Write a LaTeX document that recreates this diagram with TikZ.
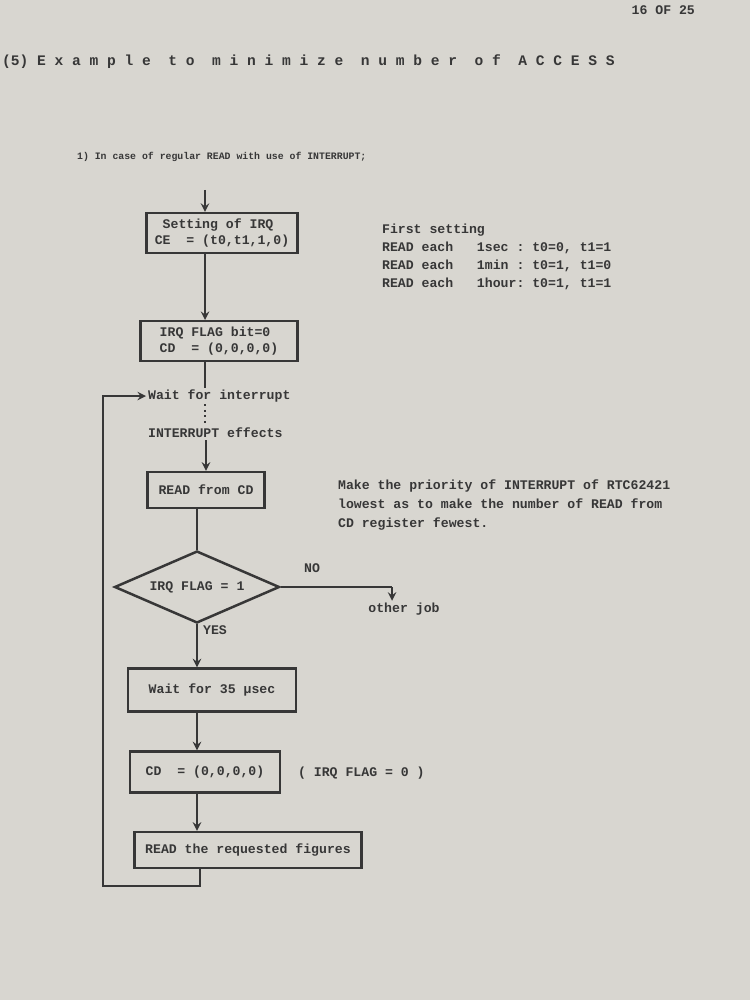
\documentclass[tikz,border=0pt]{standalone}
\usepackage{fontspec}
\setmonofont{Liberation Mono}
\usepackage{xcolor}
\usepackage{tikz}
\usetikzlibrary{shapes.geometric}

\definecolor{paper}{RGB}{216,214,208}
\definecolor{ink}{RGB}{55,55,55}

\tikzset{
    txt/.style={font=\ttfamily\bfseries\fontsize{7.5}{9.5}\selectfont, text=ink, inner sep=1pt},
    box/.style={txt, draw=ink, line width=0.5mm, align=left, inner sep=3pt},
    arr/.style={draw=ink, line width=0.4mm, -stealth},
    wire/.style={draw=ink, line width=0.4mm}
}

\begin{document}
\begin{tikzpicture}[x=0.02cm, y=-0.02cm]
            \useasboundingbox (0,0) rectangle (750,1000);
            \fill[paper] (0,0) rectangle (750,1000);

            % page head
            \node[txt, anchor=east] (page) at (697,10) {16 OF 25};
            \node[txt, anchor=west, font=\ttfamily\bfseries\fontsize{8.3}{10}\selectfont] (title) at (0,62)
                {(5) E x a m p l e~~t o~~m i n i m i z e~~n u m b e r~~o f~~A C C E S S};
            \node[txt, anchor=west, font=\ttfamily\bfseries\fontsize{5.6}{7}\selectfont] (case) at (75,157)
                {1) In case of regular READ with use of INTERRUPT;};

            % flow chart
            \coordinate (entry) at (205,190);
            \node[box, minimum width=3.02cm, minimum height=0.68cm] (setirq) at (222,233)
                {\hphantom{x}Setting of IRQ\\CE~~= (t0,t1,1,0)};
            \node[box, minimum width=3.14cm, minimum height=0.76cm] (clrflag) at (219,341)
                {IRQ FLAG bit=0\\CD~~= (0,0,0,0)};
            \node[txt, anchor=west] (wait) at (146,396) {Wait for interrupt};
            \node[txt, anchor=west] (effects) at (146,433) {INTERRUPT effects};
            \node[box, minimum width=2.34cm, minimum height=0.72cm] (readcd) at (206,490) {READ from CD};
            \node[txt, draw=ink, line width=0.5mm, shape=diamond, aspect=2.3, inner sep=0pt,
                minimum width=3.3cm, minimum height=1.44cm] (flag) at (197,587) {IRQ FLAG = 1};
            \node[box, minimum width=3.36cm, minimum height=0.86cm] (wait35) at (212,690) {Wait for 35 µsec};
            \node[box, minimum width=3.0cm, minimum height=0.82cm] (clrcd) at (205,772) {CD~~= (0,0,0,0)};
            \node[box, minimum width=4.54cm, minimum height=0.72cm] (readfig) at (248,850) {READ the requested figures};

            \node[txt] (no) at (312,568) {NO};
            \node[txt] (yes) at (215,630) {YES};
            \node[txt] (job) at (404,609) {other job};
            \coordinate (nobend) at (392,587);
            \coordinate (loopbot) at (200,886);
            \coordinate (loopleft) at (103,396);

            % notes
            \node[txt, anchor=north west, align=left, font=\ttfamily\bfseries\fontsize{7.5}{10.2}\selectfont] (first) at (380,222)
                {First setting\\
                 READ each~~~1sec~: t0=0, t1=1\\
                 READ each~~~1min~: t0=1, t1=0\\
                 READ each~~~1hour: t0=1, t1=1};
            \node[txt, anchor=north west, align=left, font=\ttfamily\bfseries\fontsize{7.5}{10.8}\selectfont] (prio) at (336,478)
                {Make the priority of INTERRUPT of RTC62421\\
                 lowest as to make the number of READ from\\
                 CD register fewest.};
            \node[txt, anchor=west] (flagzero) at (296,773) {( IRQ FLAG = 0 )};

            % connectors
            \draw[arr] (entry) -- (entry |- setirq.north);
            \draw[arr] (entry |- setirq.south) -- (entry |- clrflag.north);
            \draw[wire] (entry |- clrflag.south) -- (entry |- wait.north);
            \draw[wire, dotted] (entry |- wait.south) -- (entry |- effects.north);
            \draw[arr] (readcd.north |- effects.south) -- (readcd.north);
            \draw[wire] (flag.north |- readcd.south) -- (flag.north);
            \draw[arr] (flag.south) -- (flag.south |- wait35.north);
            \draw[arr] (flag.south |- wait35.south) -- (flag.south |- clrcd.north);
            \draw[arr] (flag.south |- clrcd.south) -- (flag.south |- readfig.north);
            \draw[wire] (flag.east) -- (nobend);
            \draw[arr] (nobend) -- (nobend |- job.north);
            \draw[arr] (loopbot |- readfig.south) -- (loopbot) -| (loopleft) -- (wait.west);

\end{tikzpicture}
\end{document}
